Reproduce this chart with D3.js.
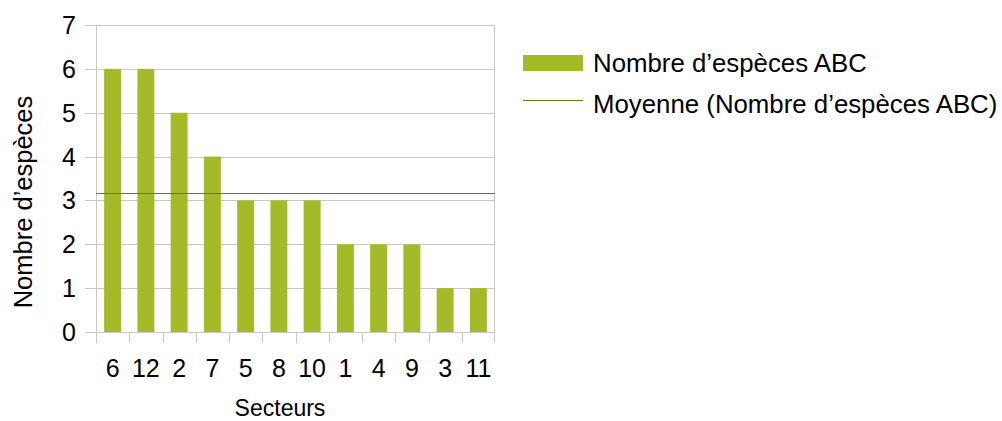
<!DOCTYPE html>
<html>
<head>
<meta charset="utf-8">
<script src="https://cdn.jsdelivr.net/npm/d3@7"></script>
<style>
  body { margin: 0; background: #fff; }
  text { font-family: "Liberation Sans", Arial, sans-serif; fill: #000; }
</style>
</head>
<body>
<div id="chart"></div>
<script>
// data
var secteurs = ["6", "12", "2", "7", "5", "8", "10", "1", "4", "9", "3", "11"];
var especes = [6, 6, 5, 4, 3, 3, 3, 2, 2, 2, 1, 1];
var yTicks = [0, 1, 2, 3, 4, 5, 6, 7];
var serieName = "Nombre d’espèces ABC";
var meanName = "Moyenne (Nombre d’espèces ABC)";

var width = 1002, height = 421;
var plotLeft = 96, plotRight = 495, plotTop = 25, plotBottom = 332;

var svg = d3.select("#chart").append("svg")
    .attr("width", width)
    .attr("height", height);

var x = d3.scaleBand().domain(secteurs).range([plotLeft, plotRight]).paddingInner(0.49).paddingOuter(0.245);
var xb = d3.scaleBand().domain(secteurs).range([plotLeft, plotRight]);
var y = d3.scaleLinear().domain([0, 7]).range([plotBottom, plotTop]);

// grid
svg.append("g").selectAll("line")
    .data(yTicks)
    .enter().append("line")
    .attr("x1", plotLeft - 11).attr("x2", plotRight)
    .attr("y1", function(d) { return Math.round(y(d)) + 0.5; })
    .attr("y2", function(d) { return Math.round(y(d)) + 0.5; })
    .attr("stroke", "#c8c8c8").attr("stroke-width", 1);

// side lines
svg.append("line")
    .attr("x1", plotLeft + 0.5).attr("x2", plotLeft + 0.5)
    .attr("y1", plotTop).attr("y2", plotBottom)
    .attr("stroke", "#c8c8c8");
svg.append("line")
    .attr("x1", plotRight - 0.5).attr("x2", plotRight - 0.5)
    .attr("y1", plotTop).attr("y2", plotBottom)
    .attr("stroke", "#c8c8c8");

// category ticks
var xTickPos = secteurs.map(function(s) { return xb(s); }).concat([plotRight - 1]);
svg.append("g").selectAll("line")
    .data(xTickPos)
    .enter().append("line")
    .attr("x1", function(d) { return Math.round(d) + 0.5; })
    .attr("x2", function(d) { return Math.round(d) + 0.5; })
    .attr("y1", plotBottom).attr("y2", plotBottom + 11)
    .attr("stroke", "#c8c8c8");

// bars
svg.append("g").selectAll("rect")
    .data(especes)
    .enter().append("rect")
    .attr("x", function(d, i) { return x(secteurs[i]); })
    .attr("width", x.bandwidth())
    .attr("y", function(d) { return y(d); })
    .attr("height", function(d) { return y(0) - y(d); })
    .attr("fill", "#a5ba28");

// mean line
var mean = d3.mean(especes);
svg.append("line")
    .attr("x1", plotLeft).attr("x2", plotRight)
    .attr("y1", Math.round(y(mean)) + 0.5).attr("y2", Math.round(y(mean)) + 0.5)
    .attr("stroke", "#66791c").attr("stroke-width", 1.2);

// y labels
svg.append("g").selectAll("text")
    .data(yTicks)
    .enter().append("text")
    .attr("x", 76)
    .attr("y", function(d) { return y(d) + 9; })
    .attr("text-anchor", "end")
    .style("font-size", "25px")
    .text(function(d) { return d; });

// x labels
svg.append("g").selectAll("text")
    .data(secteurs)
    .enter().append("text")
    .attr("x", function(d) { return xb(d) + xb.bandwidth() / 2; })
    .attr("y", 377)
    .attr("text-anchor", "middle")
    .style("font-size", "25px")
    .text(function(d) { return d; });

// axis titles
svg.append("text")
    .attr("x", 280).attr("y", 416)
    .attr("text-anchor", "middle")
    .style("font-size", "23px")
    .text("Secteurs");

svg.append("text")
    .attr("transform", "translate(32,202) rotate(-90)")
    .attr("text-anchor", "middle")
    .style("font-size", "25.5px")
    .text("Nombre d’espèces");

// legend
svg.append("rect")
    .attr("x", 523).attr("y", 55)
    .attr("width", 60).attr("height", 16)
    .attr("fill", "#a5ba28");
svg.append("text")
    .attr("x", 593).attr("y", 72)
    .style("font-size", "25.8px")
    .text(serieName);

svg.append("line")
    .attr("x1", 523).attr("x2", 583)
    .attr("y1", 100.5).attr("y2", 100.5)
    .attr("stroke", "#66791c").attr("stroke-width", 1.2);
svg.append("text")
    .attr("x", 593).attr("y", 113)
    .style("font-size", "25.8px")
    .text(meanName);
</script>
</body>
</html>
